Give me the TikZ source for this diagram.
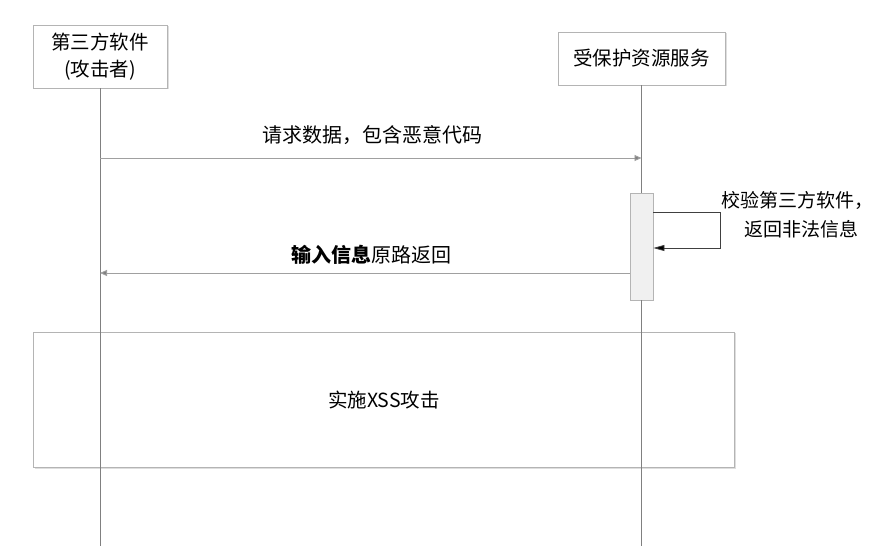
\documentclass[tikz,border=0pt]{standalone}
\usepackage{fontspec}
\setmainfont{Noto Sans CJK SC}
\newfontfamily\cjk{Noto Sans CJK SC}
\usetikzlibrary{arrows.meta,shadows}
\definecolor{ln}{HTML}{A0A0A0}
\definecolor{bx}{HTML}{B4B4B4}
\tikzset{
  actorbox/.style={draw=bx, line width=0.9pt, fill=white, inner sep=0pt, align=center,
    font=\cjk\fontsize{19.5}{27}\selectfont,
    drop shadow={shadow xshift=1.5pt, shadow yshift=-1.5pt, fill=black!25, opacity=0.5}},
  lifeline/.style={draw=ln!80!black, line width=0.8pt},
  msg/.style={draw=ln, line width=0.9pt, -{Triangle[length=7pt,width=6pt,fill=ln!80!black]}},
  msglabel/.style={font=\cjk\fontsize{20}{22}\selectfont, inner sep=0pt},
  actbox/.style={draw=bx, line width=0.8pt, fill=black!6, inner sep=0pt},
  selfmsg/.style={draw=black!75, line width=0.8pt, -{Triangle[length=11pt,width=6pt,fill=black]}},
  framebox/.style={draw=bx, line width=0.9pt, fill=white, inner sep=0pt,
    drop shadow={shadow xshift=1.5pt, shadow yshift=-1.5pt, fill=black!25, opacity=0.5}}
}
\begin{document}
\begin{tikzpicture}[x=1pt,y=-1pt]
\useasboundingbox[fill=white] (0,0) rectangle (887,556);
% big frame (drawn first, lifelines over it)
\node[framebox, minimum width=701pt, minimum height=135pt] (frame) at (383.5,399.5) {};
\node[msglabel, font=\cjk\fontsize{19.5}{22}\selectfont] (framelbl) at (384,400) {实施XSS攻击};
% actors
\node[actorbox, minimum width=134pt, minimum height=63pt] (att) at (100,56.5) {第三方软件\\(攻击者)};
\node[actorbox, minimum width=167pt, minimum height=53pt] (svc) at (641.5,58.5) {受保护资源服务};
% activation
\node[actbox, minimum width=23pt, minimum height=107pt] (act) at (641.5,246.5) {};
% lifelines
\coordinate (attend) at (100,546);
\coordinate (svcend) at (641.5,546);
\draw[lifeline] (att.south) -- (attend);
\draw[lifeline] (svc.south) -- (act.north);
\draw[lifeline] (act.south) -- (svcend);
% message 1
\coordinate (m1s) at (100,158);
\coordinate (m1e) at (641.5,158);
\draw[msg] (m1s) -- (m1e);
\node[msglabel] (m1l) at (372,135) {请求数据，包含恶意代码};
% self message
\coordinate (s1) at (act.east |- 0,212);
\coordinate (s2) at (720,212);
\coordinate (s3) at (720,248);
\coordinate (s4) at (act.east |- 0,248);
\draw[selfmsg] (s1) -- (s2) -- (s3) -- (s4);
\node[msglabel, align=center, font=\cjk\fontsize{19}{29}\selectfont] (sl) at (797,215) {校验第三方软件，\\\hspace*{0.5em}返回非法信息};
% message 2
\coordinate (m2s) at (act.west |- 0,273);
\coordinate (m2e) at (100,273);
\draw[msg] (m2s) -- (m2e);
\node[msglabel] (m2l) at (371,255) {\textbf{输入信息}原路返回};
\end{tikzpicture}
\end{document}
